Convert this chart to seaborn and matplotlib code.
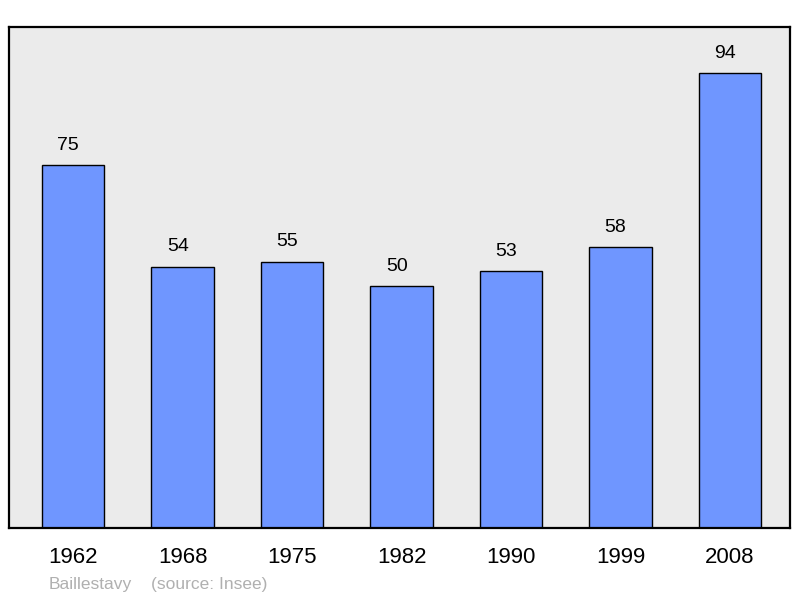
import matplotlib
matplotlib.use("Agg")
import matplotlib.pyplot as plt
import seaborn as sns
import pandas as pd

years = ['1962', '1968', '1975', '1982', '1990', '1999', '2008']
population = [75, 54, 55, 50, 53, 58, 94]
commune = 'Baillestavy'
source = '(source: Insee)'

df = pd.DataFrame({'year': years, 'pop': population})

sns.set_style('white')
plt.rcParams['font.family'] = ['Liberation Sans', 'DejaVu Sans']
plt.rcParams['text.color'] = 'black'
plt.rcParams['xtick.color'] = 'black'

fig = plt.figure(figsize=(8, 5.98), dpi=100)
ax = fig.add_axes([0.0115, 0.117, 0.976, 0.838])
ax.set_facecolor('#ebebeb')

sns.barplot(x='year', y='pop', data=df, color='#6f96ff', saturation=1,
            edgecolor='black', linewidth=1, width=0.57, ax=ax)

# value labels sit a little left of the bar centre in the original
for i, v in enumerate(population):
    ax.annotate(str(v), (i, v), xytext=(-3.5, 11), textcoords='offset points',
                ha='center', va='baseline', fontsize=14)

ax.set_xlim(-0.585, 6.55)
ax.set_ylim(0, 103.5)
ax.set_yticks([])
ax.set_xlabel('')
ax.set_ylabel('')
ax.tick_params(axis='x', length=0, pad=13.5, labelsize=16)
for s in ax.spines.values():
    s.set_visible(True)
    s.set_color('black')
    s.set_linewidth(1.6)

fig.text(49 / 800, 1 - 584 / 598, commune, color='#b0b0b0', fontsize=12.5, va='center')
fig.text(151 / 800, 1 - 584 / 598, source, color='#b0b0b0', fontsize=12.5, va='center')

plt.savefig('out.png', dpi=100)
